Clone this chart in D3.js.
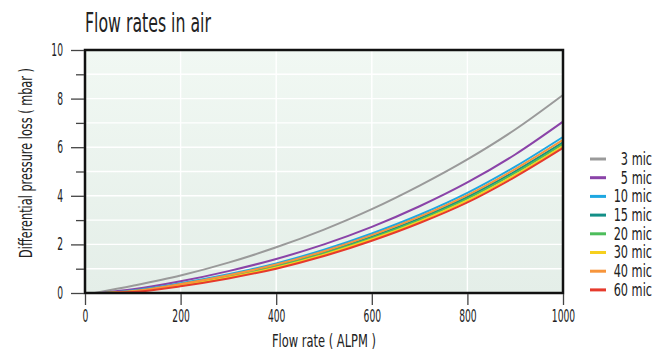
<!DOCTYPE html>
<html>
<head>
<meta charset="utf-8">
<script src="https://cdn.jsdelivr.net/npm/d3@7"></script>
<style>
  body { margin: 0; background: #fff; }
  text { font-family: "DejaVu Sans Condensed", "DejaVu Sans", sans-serif; font-stretch: condensed; fill: #222; }
</style>
</head>
<body>
<div id="chart"></div>
<script>
// flow rate (ALPM) sample points
var flow = [0, 100, 200, 300, 400, 500, 600, 700, 800, 900, 1000];

// pressure loss (mbar) per filter grade
var mic3  = [0, 0.30, 0.72, 1.25, 1.88, 2.61, 3.45, 4.42, 5.50, 6.73, 8.15];
var mic5  = [0, 0.15, 0.48, 0.90, 1.40, 2.00, 2.72, 3.57, 4.55, 5.70, 7.05];
var mic10 = [0, 0.10, 0.40, 0.77, 1.22, 1.78, 2.45, 3.22, 4.12, 5.20, 6.42];
var mic15 = [0, 0.07, 0.35, 0.70, 1.13, 1.67, 2.32, 3.07, 3.95, 5.01, 6.20];
var mic20 = [0, 0.06, 0.33, 0.67, 1.09, 1.63, 2.27, 3.01, 3.88, 4.94, 6.13];
var mic30 = [0, 0.05, 0.31, 0.64, 1.05, 1.58, 2.21, 2.95, 3.81, 4.86, 6.05];
var mic40 = [0, 0.08, 0.37, 0.73, 1.17, 1.72, 2.38, 3.14, 4.03, 5.10, 6.30];
var mic60 = [0, 0.04, 0.28, 0.60, 1.00, 1.52, 2.15, 2.88, 3.73, 4.78, 5.97];

// where each curve leaves zero
var startFlow = [20, 35, 40, 40, 40, 40, 40, 40];

var seriesNames = ["3 mic", "5 mic", "10 mic", "15 mic", "20 mic", "30 mic", "40 mic", "60 mic"];
var seriesValues = [mic3, mic5, mic10, mic15, mic20, mic30, mic40, mic60];
var colors = ["#9a9a9a", "#8a43a8", "#1ea7e1", "#138f87", "#4dbd5b", "#f6d01e", "#f7953b", "#e63a2c"];

var xTicks = [0, 200, 400, 600, 800, 1000];
var yTicks = [0, 2, 4, 6, 8, 10];
var yMinor = [1, 3, 5, 7, 9];

var w = 668, h = 351;
var margin = {left: 85, right: 105, top: 50, bottom: 58};
var sx = 0.6; // squeeze text to look like the condensed face

var svg = d3.select("#chart").append("svg")
  .attr("width", w)
  .attr("height", h);

var x = d3.scaleLinear().domain([0, 1000]).range([margin.left, w - margin.right]);
var y = d3.scaleLinear().domain([0, 10]).range([h - margin.bottom, margin.top]);

var grad = svg.append("defs").append("linearGradient")
  .attr("id", "bg").attr("x1", 0).attr("y1", 0).attr("x2", 0).attr("y2", 1);
grad.append("stop").attr("offset", "0%").attr("stop-color", "#f1f8f3");
grad.append("stop").attr("offset", "100%").attr("stop-color", "#e4eee8");

svg.append("rect")
  .attr("x", x(0)).attr("y", y(10))
  .attr("width", x(1000) - x(0)).attr("height", y(0) - y(10))
  .attr("fill", "url(#bg)");

// white grid
svg.append("g").selectAll("line")
  .data(d3.range(1, 10))
  .enter().append("line")
  .attr("x1", x(0)).attr("x2", x(1000))
  .attr("y1", function(d) { return y(d); }).attr("y2", function(d) { return y(d); })
  .attr("stroke", "#fff").attr("stroke-width", 1.4);

svg.append("g").selectAll("line")
  .data(xTicks.slice(1, -1))
  .enter().append("line")
  .attr("y1", y(0)).attr("y2", y(10))
  .attr("x1", function(d) { return x(d); }).attr("x2", function(d) { return x(d); })
  .attr("stroke", "#fff").attr("stroke-width", 1.4);

// curves
var line = d3.line()
  .x(function(d) { return x(d[0]); })
  .y(function(d) { return y(d[1]); })
  .curve(d3.curveMonotoneX);

seriesValues.forEach(function(vals, i) {
  var pts = [[startFlow[i], 0]];
  for (var k = 1; k < flow.length; k++) {
    pts.push([flow[k], vals[k]]);
  }
  svg.append("path")
    .attr("d", line(pts))
    .attr("fill", "none")
    .attr("stroke", colors[i])
    .attr("stroke-width", 2);
});

// frame
svg.append("rect")
  .attr("x", x(0)).attr("y", y(10))
  .attr("width", x(1000) - x(0)).attr("height", y(0) - y(10))
  .attr("fill", "none")
  .attr("stroke", "#111").attr("stroke-width", 2.5);

// axes
var yAxis = svg.append("g")
  .attr("transform", "translate(" + (x(0) - 1) + ",0)")
  .call(d3.axisLeft(y).tickValues(yTicks).tickSize(13).tickPadding(5));
svg.append("g")
  .attr("transform", "translate(" + (x(0) - 1) + ",0)")
  .call(d3.axisLeft(y).tickValues(yMinor).tickSize(8).tickFormat(""))
  .select(".domain").remove();

var xAxis = svg.append("g")
  .attr("transform", "translate(0," + (y(0) + 1) + ")")
  .call(d3.axisBottom(x).tickValues(xTicks).tickSize(11).tickPadding(5).tickFormat(d3.format("d")));

[yAxis, xAxis].forEach(function(a) {
  a.select(".domain").remove();
  a.selectAll("text").attr("font-size", 17).style("fill", "#222");
});
yAxis.selectAll("text")
  .attr("x", -21 / sx)
  .attr("transform", "scale(" + sx + ",1)");
xAxis.selectAll("text")
  .attr("transform", "scale(" + sx + ",1)");
svg.selectAll(".tick line").attr("stroke", "#444").attr("stroke-width", 1.3);

// titles, squeezed to the widths seen in the original
function label(tx, ty, rot, size, anchor, len, str) {
  var t = svg.append("text")
    .attr("font-size", size)
    .attr("text-anchor", anchor)
    .text(str);
  var k = len / t.node().getComputedTextLength();
  t.attr("transform", "translate(" + tx + "," + ty + ") rotate(" + rot + ") scale(" + k + ",1)");
}

label(85, 32, 0, 26, "start", 126, "Flow rates in air");
label(x(500), 347, 0, 17, "middle", 104, "Flow rate ( ALPM )");
label(32, 163, -90, 18, "middle", 190, "Differential pressure loss ( mbar )");

// legend
var legend = svg.append("g").selectAll("g")
  .data(seriesNames)
  .enter().append("g")
  .attr("transform", function(d, i) { return "translate(0," + (159 + i * 18.7) + ")"; });

legend.append("line")
  .attr("x1", 590).attr("x2", 606)
  .attr("stroke", function(d, i) { return colors[i]; })
  .attr("stroke-width", 3);

legend.append("g")
  .attr("transform", "translate(652,0) scale(0.74,1)")
  .append("text")
  .attr("dy", "0.35em")
  .attr("text-anchor", "end")
  .attr("font-size", 17)
  .text(function(d) { return d; });
</script>
</body>
</html>
